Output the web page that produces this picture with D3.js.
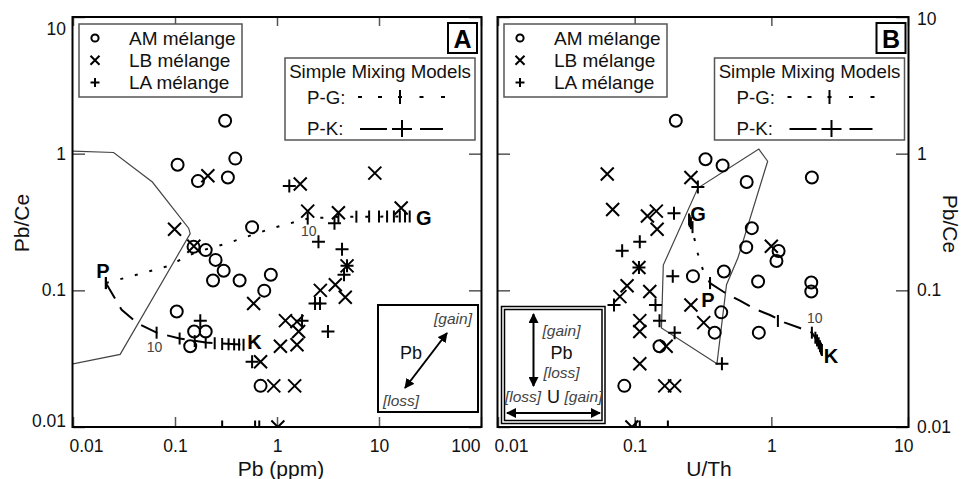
<!DOCTYPE html>
<html>
<head>
<meta charset="utf-8">
<title>Pb/Ce vs Pb and U/Th</title>
<script src="https://cdn.jsdelivr.net/npm/d3@7"></script>
<style>
  body { margin: 0; background: #fff; }
  text { font-family: "Liberation Sans", Arial, Helvetica, sans-serif; }
</style>
</head>
<body>
<svg width="962" height="479"></svg>
<script>
// ---- data ----
// panel A: Pb (ppm) vs Pb/Ce
var amA = [[0.31,1.74],[0.106,0.83],[0.39,0.92],[0.168,0.63],[0.33,0.67],[0.57,0.29],[0.152,0.208],[0.2,0.197],
  [0.25,0.167],[0.30,0.139],[0.236,0.118],[0.43,0.118],[0.87,0.13],[0.75,0.0995],[0.104,0.070],[0.154,0.050],
  [0.2,0.05],[0.141,0.039],[0.69,0.020]];
var lbA = [[0.21,0.69],[1.69,0.60],[9.1,0.72],[2.0,0.38],[4.0,0.37],[16.5,0.40],[0.099,0.28],[0.153,0.21],
  [4.86,0.151],[2.66,0.10],[3.73,0.11],[4.67,0.089],[0.59,0.080],[1.21,0.060],[1.57,0.059],[1.63,0.050],
  [1.57,0.040],[1.08,0.039],[0.69,0.030],[0.93,0.020],[1.49,0.020],[1.02,0.010]];
var laA = [[1.32,0.58],[3.66,0.31],[2.55,0.227],[4.34,0.20],[4.86,0.151],[4.54,0.13],[2.36,0.080],[2.64,0.080],
  [3.16,0.050],[0.177,0.060],[0.57,0.030],[1.76,0.060],[0.29,0.01],[0.61,0.01],[0.67,0.01]];
var fieldA = [[0.008,1.05],[0.025,1.02],[0.06,0.62],[0.136,0.285],[0.141,0.26],[0.029,0.034],[0.008,0.028]];
var pgA = [[0.021,0.113],[0.042,0.13],[0.084,0.15],[0.16,0.19],[0.32,0.22],[0.9,0.285],[2.0,0.335],[4.0,0.345],[20,0.347]];
var pgTicksA = [[0.021,0.113],[2.0,0.335],[4,0.345],[6,0.346],[8,0.347],[10,0.347],[12,0.347],[14,0.347],[16,0.347],[18,0.347],[20,0.347]];
var pkA = [[0.021,0.113],[0.03,0.072],[0.0435,0.057],[0.066,0.049],[0.111,0.0444],[0.2,0.0415],[0.47,0.040]];
var pkTicksA = [[0.021,0.113],[0.066,0.049],[0.111,0.0444],[0.156,0.0425],[0.2,0.0415],[0.245,0.041],[0.29,0.0405],
  [0.335,0.0403],[0.38,0.0402],[0.425,0.0401],[0.47,0.04]];

// panel B: U/Th vs Pb/Ce
var amB = [[0.20,1.74],[0.33,0.91],[0.44,0.82],[0.66,0.62],[1.98,0.67],[0.72,0.285],[0.655,0.207],[1.13,0.194],
  [1.09,0.164],[0.45,0.1375],[0.267,0.127],[0.80,0.116],[1.96,0.114],[1.96,0.098],[0.43,0.069],[0.385,0.049],
  [0.81,0.049],[0.152,0.039],[0.084,0.020]];
var lbB = [[0.063,0.71],[0.258,0.67],[0.069,0.39],[0.124,0.35],[0.144,0.38],[0.146,0.28],[1.0,0.21],[0.1075,0.147],
  [0.088,0.108],[0.078,0.090],[0.129,0.098],[0.258,0.078],[0.109,0.060],[0.109,0.050],[0.32,0.058],[0.17,0.039],
  [0.109,0.029],[0.166,0.020],[0.196,0.020],[0.0955,0.010]];
var laB = [[0.29,0.57],[0.194,0.366],[0.109,0.227],[0.081,0.195],[0.1075,0.147],[0.0706,0.078],[0.19,0.127],
  [0.142,0.078],[0.152,0.060],[0.196,0.049],[0.435,0.029],[0.102,0.01],[0.109,0.01],[0.175,0.01]];
var fieldB = [[0.81,1.08],[0.94,0.88],[0.57,0.173],[0.47,0.11],[0.40,0.029],[0.157,0.053],[0.162,0.153],[0.29,0.56]];
var pgB = [[0.356,0.113],[0.316,0.141],[0.29,0.185],[0.275,0.234],[0.25,0.33]];
var pgTicksB = [[0.356,0.113],[0.265,0.29],[0.258,0.31],[0.253,0.32],[0.25,0.33]];
var pkB = [[0.356,0.113],[0.458,0.096],[0.589,0.084],[0.759,0.073],[0.977,0.066],[1.257,0.058],[1.619,0.053],
  [1.98,0.049],[2.19,0.042],[2.345,0.0366]];
var pkTicksB = [[0.356,0.113],[1.117,0.0597],[1.98,0.049],[2.1,0.045],[2.16,0.043],[2.22,0.041],[2.27,0.039],[2.31,0.0375],[2.345,0.0366]];

var yTicks = [0.01, 0.1, 1, 10];
var xTicksA = [0.01, 0.1, 1, 10, 100];
var xTicksB = [0.01, 0.1, 1, 10];
var seriesNames = ["AM mélange", "LB mélange", "LA mélange"];

var svg = d3.select("svg");
var fmt = function(d){ return String(d); };

var y = d3.scaleLog().domain([0.01, 10]).range([427, 17]);
var xA = d3.scaleLog().domain([0.01, 100]).range([73, 481]);
var xB = d3.scaleLog().domain([0.01, 10]).range([498, 908]);

function marker(g, kind, cx, cy, s) {
  if (kind == 0) {
    g.append("circle").attr("cx", cx).attr("cy", cy).attr("r", s)
      .attr("fill", "none").attr("stroke", "#000").attr("stroke-width", 2);
  } else if (kind == 1) {
    g.append("path").attr("d", "M"+(cx-s)+","+(cy-s)+"L"+(cx+s)+","+(cy+s)+"M"+(cx-s)+","+(cy+s)+"L"+(cx+s)+","+(cy-s))
      .attr("stroke", "#000").attr("stroke-width", 2);
  } else {
    g.append("path").attr("d", "M"+(cx-s)+","+cy+"L"+(cx+s)+","+cy+"M"+cx+","+(cy-s)+"L"+cx+","+(cy+s))
      .attr("stroke", "#000").attr("stroke-width", 2);
  }
}

function drawPanel(p) {
  var x = p.x;
  var x0 = x.range()[0], x1 = x.range()[1];
  var g = svg.append("g");

  g.append("clipPath").attr("id", "clip" + p.name)
    .append("rect").attr("x", x0).attr("y", 17).attr("width", x1 - x0).attr("height", 410);

  // axes, ticks inside
  var bottom = g.append("g").attr("transform", "translate(0,427)")
    .call(d3.axisBottom(x).tickValues(p.xTicks).tickFormat(fmt).tickSizeInner(-10).tickSizeOuter(0).tickPadding(13));
  var top = g.append("g").attr("transform", "translate(0,17)")
    .call(d3.axisTop(x).tickValues(p.xTicks).tickFormat("").tickSizeInner(-9).tickSizeOuter(0));
  var left = g.append("g").attr("transform", "translate(" + x0 + ",0)")
    .call(d3.axisLeft(y).tickValues(yTicks).tickFormat(p.side == "left" ? fmt : "").tickSizeInner(-12).tickSizeOuter(0).tickPadding(7));
  var right = g.append("g").attr("transform", "translate(" + x1 + ",0)")
    .call(d3.axisRight(y).tickValues(yTicks).tickFormat(p.side == "right" ? fmt : "").tickSizeInner(-12).tickSizeOuter(0).tickPadding(9));
  [bottom, top, left, right].forEach(function(a){
    a.select(".domain").remove();
    a.selectAll("line").attr("stroke", "#555").attr("stroke-width", 1.5);
    a.selectAll("text").attr("font-size", 17.5).attr("fill", "#111")
      .attr("font-family", "'Liberation Sans', Arial, sans-serif");
  });
  // keep the end labels inside the panel
  bottom.selectAll(".tick text").filter(function(d){ return d == p.xTicks[0]; })
    .attr("text-anchor", "start").attr("x", -4);
  bottom.selectAll(".tick text").filter(function(d){ return d == p.xTicks[p.xTicks.length-1]; })
    .attr("text-anchor", "end").attr("x", p.name == "A" ? -1 : 5);
  if (p.side == "left") {
    left.selectAll(".tick text").filter(function(d){ return d == 10; }).attr("dy", "1.0em");
    left.selectAll(".tick text").filter(function(d){ return d == 0.01; }).attr("dy", "-0.05em");
  } else {
    right.selectAll(".tick text").filter(function(d){ return d == 10; }).attr("dy", "0.45em");
  }

  var plot = g.append("g").attr("clip-path", "url(#clip" + p.name + ")");
  var line = d3.line().x(function(d){ return x(d[0]); }).y(function(d){ return y(d[1]); });

  // field outline
  plot.append("path").datum(p.field).attr("d", function(d){ return line(d) + "Z"; })
    .attr("fill", "none").attr("stroke", "#444").attr("stroke-width", 1.2);

  // mixing models
  plot.append("path").datum(p.pg).attr("d", line)
    .attr("fill", "none").attr("stroke", "#000").attr("stroke-width", 2).attr("stroke-dasharray", "3,12");
  plot.append("path").datum(p.pk).attr("d", line)
    .attr("fill", "none").attr("stroke", "#000").attr("stroke-width", 2).attr("stroke-dasharray", "18,10");
  p.pgTicks.concat(p.pkTicks).forEach(function(d){
    plot.append("line").attr("x1", x(d[0])).attr("x2", x(d[0]))
      .attr("y1", y(d[1]) - 6).attr("y2", y(d[1]) + 6)
      .attr("stroke", "#000").attr("stroke-width", 2);
  });

  // samples
  [p.am, p.lb, p.la].forEach(function(ser, k){
    ser.forEach(function(d){ marker(plot, k, x(d[0]), y(d[1]), k == 0 ? 6 : 6.5); });
  });

  // endmember labels
  p.labels.forEach(function(l){
    g.append("text").attr("x", x(l.at[0]) + l.dx).attr("y", y(l.at[1]) + l.dy)
      .attr("text-anchor", "middle").attr("dominant-baseline", "central")
      .attr("font-size", l.size).attr("font-weight", l.bold ? "bold" : "normal")
      .attr("fill", l.bold ? "#000" : "#444").text(l.text);
  });

  // frame
  g.append("rect").attr("x", x0 - 0.5).attr("y", 17).attr("width", x1 - x0 + 1).attr("height", 410)
    .attr("fill", "none").attr("stroke", "#000").attr("stroke-width", 2);

  // symbol legend
  var lg = g.append("g");
  lg.append("rect").attr("x", p.leg[0]).attr("y", 24).attr("width", 163).attr("height", 73)
    .attr("fill", "#fff").attr("stroke", "#555").attr("stroke-width", 1.5);
  seriesNames.forEach(function(s, k){
    var cy = 38 + k * 22.3;
    marker(lg, k, p.leg[0] + 16, cy, k == 0 ? 3.6 : 4.5);
    lg.append("text").attr("x", p.leg[0] + 50).attr("y", cy).attr("dominant-baseline", "central")
      .attr("font-size", 19).attr("fill", "#111").text(s);
  });

  // panel letter
  g.append("rect").attr("x", p.letter[0]).attr("y", 23).attr("width", 29).attr("height", 30)
    .attr("fill", "#fff").attr("stroke", "#000").attr("stroke-width", 2);
  g.append("text").attr("x", p.letter[0] + 14.5).attr("y", 39).attr("text-anchor", "middle")
    .attr("dominant-baseline", "central").attr("font-size", 25).attr("font-weight", "bold").text(p.name);

  // mixing model legend
  var m = p.mix[0];
  var mg = g.append("g");
  mg.append("rect").attr("x", m).attr("y", 58).attr("width", 190).attr("height", 82)
    .attr("fill", "#fff").attr("stroke", "#555").attr("stroke-width", 1.5);
  mg.append("text").attr("x", m + 95).attr("y", 71).attr("text-anchor", "middle").attr("dominant-baseline", "central")
    .attr("font-size", 18.7).attr("fill", "#111").text("Simple Mixing Models");
  mg.append("text").attr("x", m + 22).attr("y", 97).attr("dominant-baseline", "central")
    .attr("font-size", 18.7).attr("fill", "#111").text("P-G:");
  mg.append("text").attr("x", m + 22).attr("y", 128.5).attr("dominant-baseline", "central")
    .attr("font-size", 18.7).attr("fill", "#111").text("P-K:");
  [75, 95, 136.5, 158].forEach(function(o){
    mg.append("line").attr("x1", m + o - 2).attr("x2", m + o + 2).attr("y1", 97).attr("y2", 97)
      .attr("stroke", "#000").attr("stroke-width", 2);
  });
  mg.append("line").attr("x1", m + 113).attr("x2", m + 117).attr("y1", 97).attr("y2", 97).attr("stroke", "#000").attr("stroke-width", 2);
  mg.append("line").attr("x1", m + 115).attr("x2", m + 115).attr("y1", 90).attr("y2", 104).attr("stroke", "#000").attr("stroke-width", 2);
  [[75, 102], [107, 127], [135, 158]].forEach(function(s){
    mg.append("line").attr("x1", m + s[0]).attr("x2", m + s[1]).attr("y1", 129).attr("y2", 129)
      .attr("stroke", "#000").attr("stroke-width", 2);
  });
  mg.append("line").attr("x1", m + 117).attr("x2", m + 117).attr("y1", 120).attr("y2", 137).attr("stroke", "#000").attr("stroke-width", 2);
}

// arrow heads
var defs = svg.append("defs");
defs.append("marker").attr("id", "ah").attr("viewBox", "0 0 10 10").attr("refX", 9).attr("refY", 5)
  .attr("markerWidth", 5).attr("markerHeight", 5).attr("orient", "auto-start-reverse")
  .append("path").attr("d", "M0,0L10,5L0,10Z").attr("fill", "#000");

drawPanel({name: "A", x: xA, xTicks: xTicksA, side: "left", am: amA, lb: lbA, la: laA, field: fieldA,
  pg: pgA, pk: pkA, pgTicks: pgTicksA, pkTicks: pkTicksA, leg: [79], letter: [448], mix: [285],
  labels: [
    {text: "P", at: pgA[0], dx: -3, dy: -12, size: 20, bold: true},
    {text: "G", at: pgA[pgA.length-1], dx: 14, dy: 2, size: 20, bold: true},
    {text: "K", at: pkA[pkA.length-1], dx: 11, dy: -3, size: 20, bold: true},
    {text: "10", at: pgTicksA[1], dx: 1, dy: 12, size: 14, bold: false},
    {text: "10", at: pkTicksA[1], dx: -2, dy: 14, size: 14, bold: false}
  ]});

drawPanel({name: "B", x: xB, xTicks: xTicksB, side: "right", am: amB, lb: lbB, la: laB, field: fieldB,
  pg: pgB, pk: pkB, pgTicks: pgTicksB, pkTicks: pkTicksB, leg: [504], letter: [876.5], mix: [714.5],
  labels: [
    {text: "P", at: pgB[0], dx: -2, dy: 17, size: 20, bold: true},
    {text: "G", at: pgB[pgB.length-1], dx: 9, dy: -5, size: 20, bold: true},
    {text: "K", at: pkB[pkB.length-1], dx: 9, dy: 6, size: 20, bold: true},
    {text: "10", at: pkTicksB[2], dx: 3, dy: -15, size: 14, bold: false}
  ]});

// axis titles
svg.append("text").attr("x", 281).attr("y", 468).attr("text-anchor", "middle").attr("dominant-baseline", "central")
  .attr("font-size", 21).attr("fill", "#111").text("Pb (ppm)");
svg.append("text").attr("x", 709).attr("y", 468).attr("text-anchor", "middle").attr("dominant-baseline", "central")
  .attr("font-size", 21).attr("fill", "#111").text("U/Th");
svg.append("text").attr("transform", "translate(21,223) rotate(-90)").attr("text-anchor", "middle")
  .attr("dominant-baseline", "central").attr("font-size", 21).attr("fill", "#111").text("Pb/Ce");
svg.append("text").attr("transform", "translate(950,224) rotate(90)").attr("text-anchor", "middle")
  .attr("dominant-baseline", "central").attr("font-size", 21).attr("fill", "#111").text("Pb/Ce");

// element-mobility insets
var ia = svg.append("g");
ia.append("rect").attr("x", 378).attr("y", 305).attr("width", 100).attr("height", 107)
  .attr("fill", "#fff").attr("stroke", "#000").attr("stroke-width", 2);
ia.append("line").attr("x1", 405).attr("y1", 388).attr("x2", 447).attr("y2", 333)
  .attr("stroke", "#000").attr("stroke-width", 2).attr("marker-start", "url(#ah)").attr("marker-end", "url(#ah)");
ia.append("text").attr("x", 453).attr("y", 318).attr("text-anchor", "middle").attr("dominant-baseline", "central")
  .attr("font-size", 15.5).attr("font-style", "italic").attr("fill", "#444").text("[gain]");
ia.append("text").attr("x", 411).attr("y", 353).attr("text-anchor", "middle").attr("dominant-baseline", "central")
  .attr("font-size", 18).attr("fill", "#111").text("Pb");
ia.append("text").attr("x", 401).attr("y", 400).attr("text-anchor", "middle").attr("dominant-baseline", "central")
  .attr("font-size", 15.5).attr("font-style", "italic").attr("fill", "#444").text("[loss]");

var ib = svg.append("g");
ib.append("rect").attr("x", 501.5).attr("y", 306.5).attr("width", 103.5).attr("height", 117)
  .attr("fill", "#fff").attr("stroke", "#000").attr("stroke-width", 1.5);
ib.append("rect").attr("x", 504.5).attr("y", 309.5).attr("width", 97.5).attr("height", 111)
  .attr("fill", "none").attr("stroke", "#000").attr("stroke-width", 1.5);
ib.append("line").attr("x1", 533.5).attr("y1", 314).attr("x2", 533.5).attr("y2", 386)
  .attr("stroke", "#000").attr("stroke-width", 2).attr("marker-start", "url(#ah)").attr("marker-end", "url(#ah)");
ib.append("line").attr("x1", 507).attr("y1", 413).attr("x2", 600).attr("y2", 413)
  .attr("stroke", "#000").attr("stroke-width", 2).attr("marker-start", "url(#ah)").attr("marker-end", "url(#ah)");
ib.append("text").attr("x", 561.5).attr("y", 330.5).attr("text-anchor", "middle").attr("dominant-baseline", "central")
  .attr("font-size", 15.5).attr("font-style", "italic").attr("fill", "#444").text("[gain]");
ib.append("text").attr("x", 561.5).attr("y", 353).attr("text-anchor", "middle").attr("dominant-baseline", "central")
  .attr("font-size", 18).attr("fill", "#111").text("Pb");
ib.append("text").attr("x", 561.5).attr("y", 372).attr("text-anchor", "middle").attr("dominant-baseline", "central")
  .attr("font-size", 15.5).attr("font-style", "italic").attr("fill", "#444").text("[loss]");
ib.append("text").attr("x", 523).attr("y", 396.5).attr("text-anchor", "middle").attr("dominant-baseline", "central")
  .attr("font-size", 15.5).attr("font-style", "italic").attr("fill", "#444").text("[loss]");
ib.append("text").attr("x", 553.5).attr("y", 396.5).attr("text-anchor", "middle").attr("dominant-baseline", "central")
  .attr("font-size", 18).attr("fill", "#111").text("U");
ib.append("text").attr("x", 583.5).attr("y", 396.5).attr("text-anchor", "middle").attr("dominant-baseline", "central")
  .attr("font-size", 15.5).attr("font-style", "italic").attr("fill", "#444").text("[gain]");
</script>
</body>
</html>
